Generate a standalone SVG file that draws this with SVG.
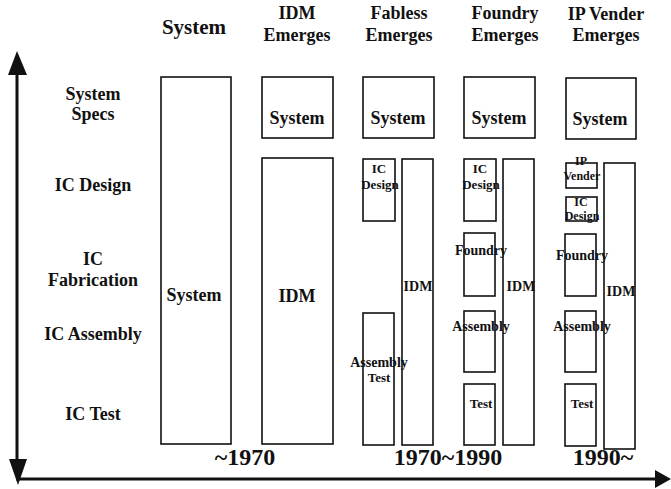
<svg xmlns="http://www.w3.org/2000/svg" width="671" height="489" viewBox="0 0 671 489">
<style>
text{font-family:"Liberation Serif","Times New Roman",serif;font-weight:bold;fill:#111;text-anchor:middle}
.h{font-size:18px}
.hs{font-size:21px}
.l{font-size:18px}
.b{font-size:18px}
.s{font-size:13px}
.m{font-size:14px}
.t{font-size:12px}
.y{font-size:24px}
rect{fill:none;stroke:#111;stroke-width:1.6}
.ax{stroke:#111;stroke-width:3;fill:none}
.ah{fill:#111;stroke:none}
</style>
<rect x="0" y="0" width="671" height="489" style="fill:#fff;stroke:none"/>
<g id="headers">
<text class="hs" x="194" y="34">System</text>
<text class="h" x="297" y="19">IDM</text><text class="h" x="297" y="41">Emerges</text>
<text class="h" x="399" y="19">Fabless</text><text class="h" x="399" y="41">Emerges</text>
<text class="h" x="505" y="19">Foundry</text><text class="h" x="505" y="41">Emerges</text>
<text class="h" x="606" y="20">IP Vender</text><text class="h" x="606" y="41">Emerges</text>
</g>
<g id="rowlabels">
<text class="l" x="93" y="100">System</text><text class="l" x="93" y="120">Specs</text>
<text class="l" x="93" y="191">IC Design</text>
<text class="l" x="93" y="265">IC</text><text class="l" x="93" y="286">Fabrication</text>
<text class="l" x="93" y="340">IC Assembly</text>
<text class="l" x="93" y="420">IC Test</text>
</g>
<g id="connectors">
<line class="ax" x1="17" y1="70" x2="17" y2="465"/>
<polygon class="ah" points="17,51 27,75 8,75"/>
<polygon class="ah" points="9,459 27,459 18,485"/>
<line class="ax" x1="16" y1="479" x2="658" y2="479"/>
<polygon class="ah" points="655,470 671,479 655,488"/>
</g>
<g id="c1-system"><rect x="161" y="77" width="70" height="367"/><text class="b" x="194" y="301">System</text></g>
<g id="c2-system"><rect x="262" y="77" width="71" height="61"/><text class="b" x="297" y="124">System</text></g>
<g id="c2-idm"><rect x="262" y="158" width="71" height="286"/><text class="b" x="297" y="302">IDM</text></g>
<g id="c3-idm"><rect x="402" y="159" width="31" height="286"/><text class="m" x="418" y="291">IDM</text></g>
<g id="c3-system"><rect x="363" y="77" width="71" height="61"/><text class="b" x="398" y="124">System</text></g>
<g id="c3-design"><rect x="363" y="159" width="32" height="62"/><text class="s" x="379" y="173">IC</text><text class="s" x="380" y="189">Design</text></g>
<g id="c3-asm"><rect x="363" y="313" width="31" height="132"/><text class="m" x="379" y="367">Assembly</text><text class="s" x="379" y="382">Test</text></g>
<g id="c4-idm"><rect x="503" y="159" width="31" height="286"/><text class="m" x="521" y="291">IDM</text></g>
<g id="c4-system"><rect x="464" y="77" width="71" height="61"/><text class="b" x="499" y="124">System</text></g>
<g id="c4-design"><rect x="464" y="159" width="32" height="62"/><text class="s" x="480" y="173">IC</text><text class="s" x="481" y="189">Design</text></g>
<g id="c4-foundry"><rect x="464" y="233" width="31" height="63"/><text class="m" x="481" y="255">Foundry</text></g>
<g id="c4-asm"><rect x="464" y="311" width="31" height="61"/><text class="m" x="481" y="331">Assembly</text></g>
<g id="c4-test"><rect x="464" y="384" width="31" height="61"/><text class="s" x="481" y="408">Test</text></g>
<g id="c5-idm"><rect x="604" y="163" width="31" height="286"/><text class="m" x="621" y="296">IDM</text></g>
<g id="c5-system"><rect x="566" y="78" width="70" height="61"/><text class="b" x="600" y="125">System</text></g>
<g id="c5-ip"><rect x="566" y="163" width="31" height="25"/><text class="t" x="581" y="165">IP</text><text class="t" x="582" y="180">Vender</text></g>
<g id="c5-design"><rect x="566" y="197" width="31" height="24"/><text class="t" x="581" y="206">IC</text><text class="t" x="582" y="220">Design</text></g>
<g id="c5-foundry"><rect x="565" y="234" width="31" height="62"/><text class="m" x="582" y="260">Foundry</text></g>
<g id="c5-asm"><rect x="565" y="311" width="31" height="61"/><text class="m" x="582" y="331">Assembly</text></g>
<g id="c5-test"><rect x="565" y="384" width="31" height="62"/><text class="s" x="582" y="408">Test</text></g>
<g id="years">
<text class="y" x="245" y="465">~1970</text>
<text class="y" x="448" y="465">1970~1990</text>
<text class="y" x="603" y="465">1990~</text>
</g>
</svg>
